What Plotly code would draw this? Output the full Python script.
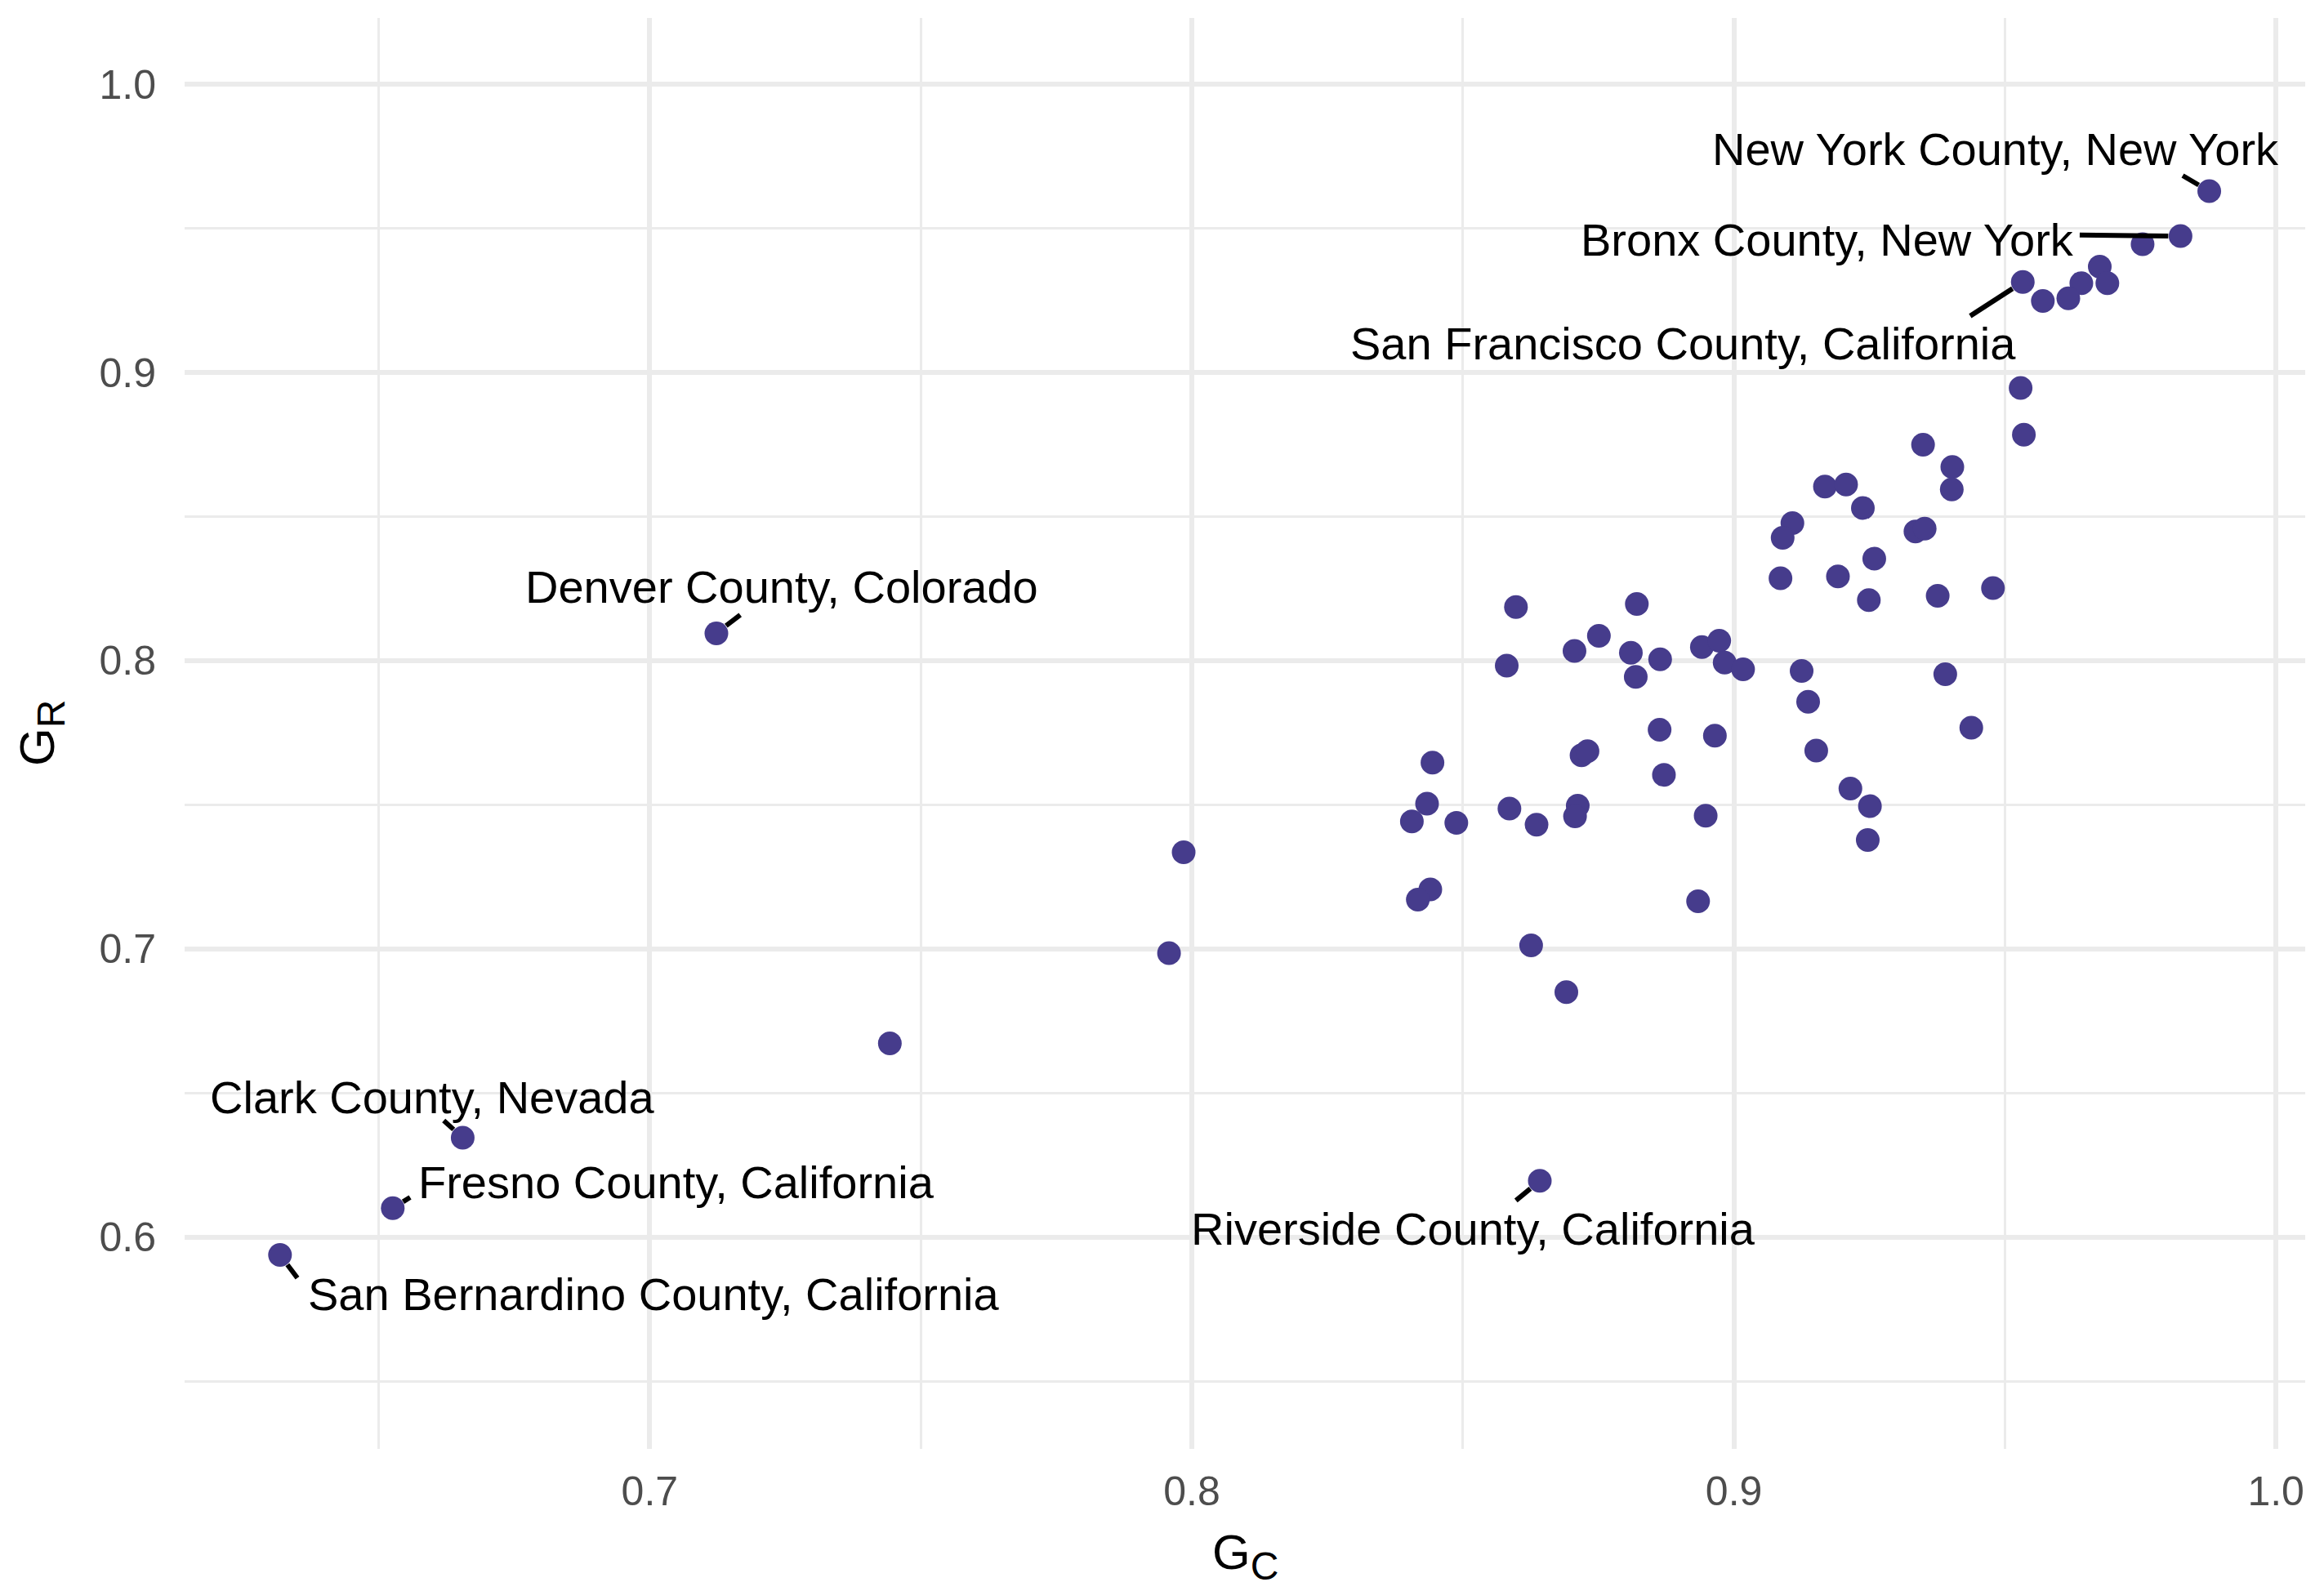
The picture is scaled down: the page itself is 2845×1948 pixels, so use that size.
import plotly.graph_objects as go
import math

# ---------------- data ----------------
gc = [0.6318, 0.6526, 0.6655, 0.7123, 0.7443, 0.7958, 0.7985, 0.8642,
      0.9535, 0.9349, 0.9403, 0.9402, 0.9168, 0.9207, 0.9238, 0.9108, 0.9090, 0.9335,
      0.9352, 0.9259, 0.9086, 0.9192, 0.9249, 0.9376, 0.9478, 0.8598, 0.8821, 0.8751,
      0.8706, 0.8810, 0.8581, 0.8864, 0.8819, 0.8941, 0.8973, 0.8983, 0.9017, 0.9125,
      0.9390, 0.9137, 0.9438, 0.8863, 0.8965, 0.9152, 0.8719, 0.8730, 0.8444, 0.8871,
      0.9215, 0.9251, 0.8434, 0.8406, 0.8488, 0.8586, 0.8636, 0.8712, 0.8707, 0.8948,
      0.9247, 0.8440, 0.8417, 0.8934, 0.8626, 0.8691,
      0.9877, 0.9824, 0.9754, 0.9675, 0.9689, 0.9641, 0.9617, 0.9570, 0.9533, 0.9529]
gr = [0.5938, 0.6100, 0.6345, 0.8095, 0.6672, 0.6985, 0.7335, 0.6195,
      0.8784, 0.8749, 0.8672, 0.8594, 0.8604, 0.8611, 0.8530, 0.8477, 0.8426, 0.8448,
      0.8458, 0.8354, 0.8286, 0.8292, 0.8210, 0.8225, 0.8252, 0.8186, 0.8197, 0.8086,
      0.8034, 0.8027, 0.7983, 0.8005, 0.7944, 0.8047, 0.8069, 0.7993, 0.7970, 0.7964,
      0.7953, 0.7857, 0.7767, 0.7760, 0.7740, 0.7688, 0.7672, 0.7686, 0.7646, 0.7604,
      0.7556, 0.7495, 0.7504, 0.7442, 0.7437, 0.7487, 0.7431, 0.7497, 0.7460, 0.7462,
      0.7378, 0.7206, 0.7171, 0.7165, 0.7012, 0.6850,
      0.9629, 0.9473, 0.9445, 0.9367, 0.9310, 0.9310, 0.9257, 0.9248, 0.9314, 0.8946]

label_names = ["New York County, New York", "Bronx County, New York",
               "San Francisco County, California", "Denver County, Colorado",
               "Clark County, Nevada", "Fresno County, California",
               "San Bernardino County, California", "Riverside County, California"]
label_point_index = [64, 65, 72, 3, 2, 1, 0, 7]

x_ticks = [0.7, 0.8, 0.9, 1.0]
y_ticks = [0.6, 0.7, 0.8, 0.9, 1.0]

# ---------------- label layout (text centre, segment end) ----------------
label_text_pos = [(0.9483, 0.9774), (0.9172, 0.9462), (0.8906, 0.9102), (0.7244, 0.8255),
                  (0.6600, 0.6484), (0.7049, 0.6189), (0.7008, 0.5801), (0.8519, 0.6030)]
label_seg_end = [(0.9828, 0.9683), (0.9638, 0.9477), (0.9436, 0.9196), (0.7167, 0.8159),
                 (0.6620, 0.6404), (0.6558, 0.6138), (0.6350, 0.5858), (0.8598, 0.6127)]

# ---------------- layout constants ----------------
# page body has an 8px default margin, so the figure is drawn 8px in from the window
W, H = 2829, 1932
ML, MR, MT, MB = 218, 15, 14, 166
XR = [0.6142, 1.0054]
YR = [0.5265, 1.0230]
pxx = (W - ML - MR) / (XR[1] - XR[0])
pxy = (H - MT - MB) / (YR[1] - YR[0])

FONT = "Liberation Sans, Arial, Helvetica, sans-serif"
PT_COLOR = "#463C8C"
GRID = "#EBEBEB"

fig = go.Figure()
fig.add_trace(go.Scatter(x=gc, y=gr, mode="markers",
                         marker=dict(size=29, color=PT_COLOR, line=dict(width=0)),
                         hoverinfo="skip", showlegend=False))

shapes = []
annotations = []
pad = 15  # pixels from point centre
for name, pi, (tx, ty), (ex, ey) in zip(label_names, label_point_index, label_text_pos, label_seg_end):
    px0, py0 = gc[pi], gr[pi]
    dxp = (ex - px0) * pxx
    dyp = (ey - py0) * pxy
    d = math.hypot(dxp, dyp)
    sx = px0 + dxp / d * pad / pxx
    sy = py0 + dyp / d * pad / pxy
    shapes.append(dict(type="line", xref="x", yref="y", x0=sx, y0=sy, x1=ex, y1=ey,
                       line=dict(color="black", width=6), layer="above"))
    annotations.append(dict(x=tx, y=ty, xref="x", yref="y", text=name, showarrow=False,
                            xanchor="center", yanchor="middle",
                            font=dict(family=FONT, size=56, color="black")))

# axis titles
annotations.append(dict(x=0.5, y=(H - MB - 1897) / (H - MT - MB), xref="paper", yref="paper",
                        text='G<sub><span style="font-size:48px">C</span></sub>', showarrow=False,
                        xanchor="center", yanchor="middle",
                        font=dict(family=FONT, size=60, color="black")))
annotations.append(dict(x=(42 - ML) / (W - ML - MR), y=0.5, xref="paper", yref="paper",
                        text='G<sub><span style="font-size:48px">R</span></sub>', showarrow=False,
                        textangle=-90, xanchor="center", yanchor="middle",
                        font=dict(family=FONT, size=60, color="black")))

fig.update_layout(
    width=W, height=H,
    margin=dict(l=ML, r=MR, t=MT, b=MB, autoexpand=False),
    paper_bgcolor="white", plot_bgcolor="white",
    shapes=shapes, annotations=annotations,
    font=dict(family=FONT),
    xaxis=dict(range=XR, tickvals=x_ticks, ticktext=[f"{v:.1f}" for v in x_ticks],
               showgrid=True, gridcolor=GRID, gridwidth=5.5,
               minor=dict(dtick=0.05, tick0=0.6, showgrid=True, gridcolor=GRID, gridwidth=3),
               zeroline=False, showline=False, ticks="",
               tickfont=dict(family=FONT, size=50, color="#4D4D4D"),
               ticklabelstandoff=18, automargin=False),
    yaxis=dict(range=YR, tickvals=y_ticks, ticktext=[f"{v:.1f}" for v in y_ticks],
               showgrid=True, gridcolor=GRID, gridwidth=5.5,
               minor=dict(dtick=0.05, tick0=0.5, showgrid=True, gridcolor=GRID, gridwidth=3),
               zeroline=False, showline=False, ticks="",
               tickfont=dict(family=FONT, size=50, color="#4D4D4D"),
               ticklabelstandoff=34, automargin=False),
)

fig.write_html("out.html")
